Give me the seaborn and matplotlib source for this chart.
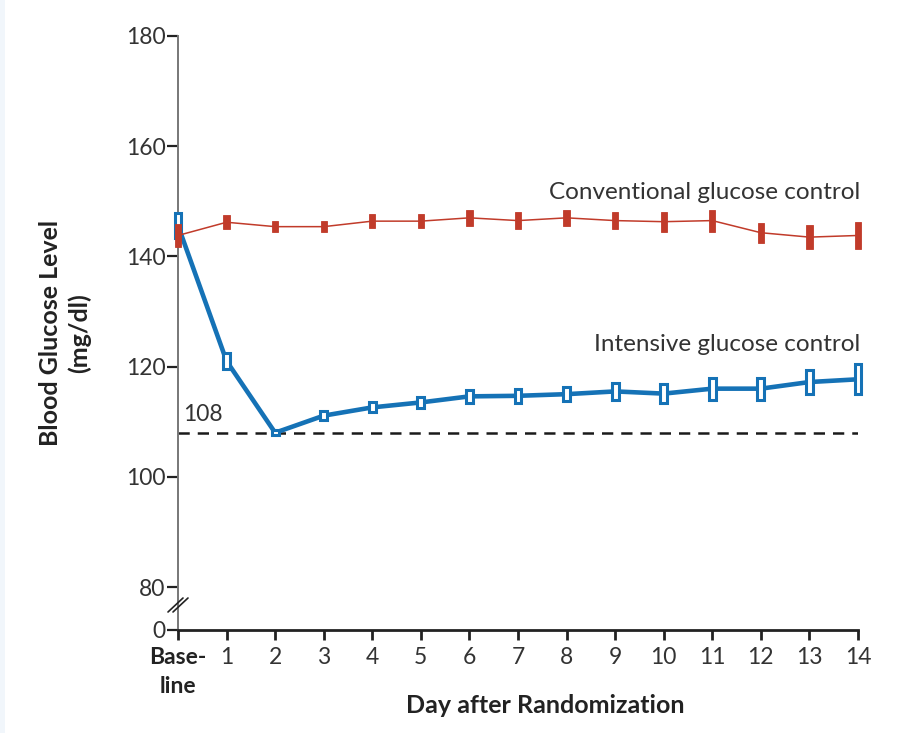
import numpy as np
import pandas as pd
import matplotlib
matplotlib.use("Agg")
import matplotlib.pyplot as plt
import seaborn as sns
from matplotlib.lines import Line2D
from matplotlib.patches import Rectangle

# ---- data ----
days = list(range(15))
day_labels = ["Base-\nline"] + [str(d) for d in range(1, 15)]
conventional = [143.8, 146.2, 145.4, 145.4, 146.4, 146.4, 147.0, 146.5, 147.0, 146.5, 146.3, 146.5, 144.3, 143.5, 143.8]
conventional_err = [2.1, 1.3, 1.0, 1.0, 1.3, 1.3, 1.4, 1.5, 1.5, 1.5, 1.8, 2.0, 1.8, 2.2, 2.4]
intensive = [145.6, 121.0, 108.0, 111.1, 112.6, 113.5, 114.6, 114.7, 115.0, 115.5, 115.1, 116.0, 116.0, 117.2, 117.7]
intensive_err = [2.3, 1.4, 0.5, 0.8, 0.9, 1.0, 1.2, 1.3, 1.3, 1.5, 1.7, 2.0, 2.0, 2.2, 2.7]
target_level = 108
y_ticks = [0, 80, 100, 120, 140, 160, 180]

RED = "#c13b2a"
BLUE = "#1572b6"

sns.set_theme(style="white")
plt.rcParams["font.family"] = ["Lato", "DejaVu Sans"]

# broken axis: compress 0-80 into a short segment
def fwd(v):
    v = np.asarray(v, dtype=float)
    return np.where(v >= 80, v, 80 - (80 - v) * 7.8 / 80)

def inv(t):
    t = np.asarray(t, dtype=float)
    return np.where(t >= 80, t, 80 - (80 - t) * 80 / 7.8)

fig = plt.figure(figsize=(8.99, 7.33), dpi=100)
fig.patches.append(Rectangle((0, 0), 5 / 899, 1, transform=fig.transFigure,
                             facecolor="#f1f6fb", edgecolor="none", zorder=0))
ax = fig.add_axes([178 / 899, 1 - 630 / 733, 680 / 899, 594 / 733])
ax.set_yscale("function", functions=(fwd, inv))

df = pd.DataFrame({
    "day": days * 2,
    "glucose": intensive + conventional,
    "group": ["Intensive"] * 15 + ["Conventional"] * 15,
})

# reference line
ax.axhline(target_level, color="#1a1a1a", lw=1.8, ls=(0, (4.5, 3.2)), zorder=1)

# intensive line and boxes
sns.lineplot(data=df[df.group == "Intensive"], x="day", y="glucose", ax=ax,
             color=BLUE, lw=3.3, zorder=3, legend=False, clip_on=False)
lo_i = np.array(intensive) - np.array(intensive_err)
ax.bar(days, 2 * np.array(intensive_err), bottom=lo_i, width=0.14,
       facecolor="white", edgecolor=BLUE, linewidth=2.2, zorder=4, clip_on=False)

# conventional line and boxes
sns.lineplot(data=df[df.group == "Conventional"], x="day", y="glucose", ax=ax,
             color=RED, lw=1.1, zorder=5, legend=False, clip_on=False)
lo_c = np.array(conventional) - np.array(conventional_err)
ax.bar(days, 2 * np.array(conventional_err), bottom=lo_c, width=0.13,
       facecolor=RED, edgecolor=RED, linewidth=0.6, zorder=6, clip_on=False)

ax.set_xlim(0, 14)
ax.set_ylim(0, 180)
ax.set_yticks(y_ticks)
ax.set_yticklabels([str(t) for t in y_ticks])
ax.set_xticks(days)
ax.set_xticklabels(day_labels)
ax.minorticks_off()

for s in ["top", "right"]:
    ax.spines[s].set_visible(False)
ax.spines["left"].set_color("#777777")
ax.spines["left"].set_linewidth(1.4)
ax.spines["bottom"].set_color("#222222")
ax.spines["bottom"].set_linewidth(2.0)

ax.tick_params(axis="y", direction="out", length=8, width=1.6, color="#222222",
               labelsize=16.5, labelcolor="#333333", pad=1, left=True)
ax.tick_params(axis="x", direction="out", length=7, width=2.0, color="#222222",
               labelsize=16.5, labelcolor="#333333", pad=5, bottom=True)
ax.get_xticklabels()[0].set_fontweight("bold")
ax.get_xticklabels()[0].set_color("#222222")
ax.get_xticklabels()[0].set_linespacing(1.5)

ax.set_xlabel("Day after Randomization", fontsize=18, fontweight="bold",
              color="#222222")
ax.xaxis.set_label_coords(0.54, -0.107)
ax.set_ylabel("Blood Glucose Level\n(mg/dl)", fontsize=18, fontweight="bold",
              color="#222222", linespacing=1.25)
ax.yaxis.set_label_coords(-0.128, 0.5)

# axis break marks
for off in (0, 5):
    x0 = 168 + off
    y0 = 612
    x1 = 183 + off
    y1 = 598
    fig.add_artist(Line2D([x0 / 899, x1 / 899], [1 - y0 / 733, 1 - y1 / 733],
                          transform=fig.transFigure, color="#222222", lw=1.2))

# annotations
ax.text(0.1, 109.4, "108", fontsize=16.5, color="#333333", ha="left", va="bottom")
ax.text(14.05, 151.6, "Conventional glucose control", fontsize=17.5, color="#333333",
        ha="right", va="center")
ax.text(14.05, 124.0, "Intensive glucose control", fontsize=17.5, color="#333333",
        ha="right", va="center")

fig.savefig("out.png", dpi=100)
